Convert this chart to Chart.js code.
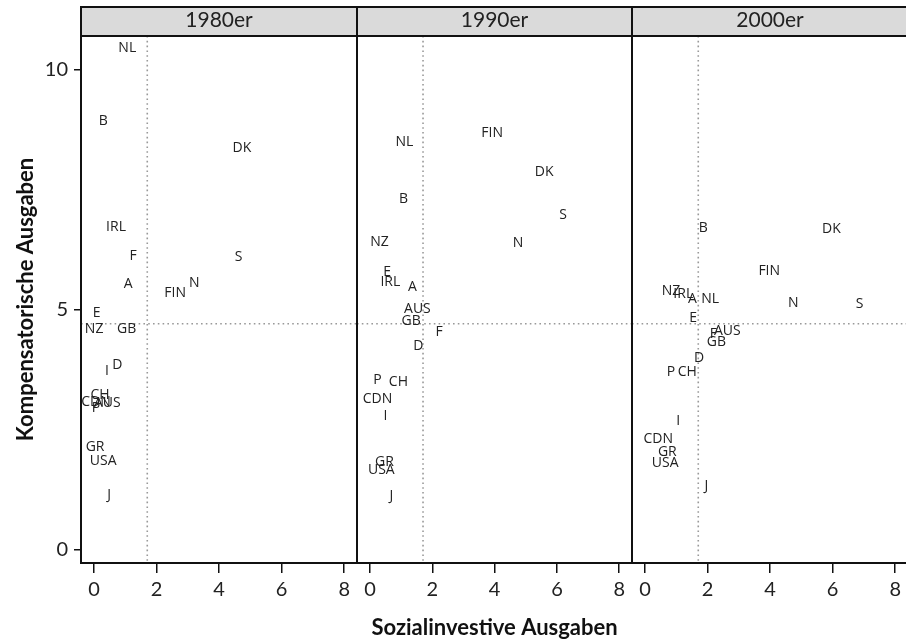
<!DOCTYPE html>
<html>
<head>
<meta charset="utf-8">
<script src="https://cdn.jsdelivr.net/npm/chart.js@4.4.0/dist/chart.umd.min.js"></script>
<style>
  html, body { margin: 0; padding: 0; background: #fff; overflow: hidden; }
  #wrap { position: relative; width: 906px; height: 639px; overflow: hidden; }
  canvas { position: absolute; top: 0; }
</style>
</head>
<body>
<div id="wrap">
  <canvas id="p80" width="359" height="639" style="left:0px"></canvas>
  <canvas id="p90" width="279" height="639" style="left:355px"></canvas>
  <canvas id="p00" width="280" height="639" style="left:630px"></canvas>
</div>
<script>
// values
const panelTitles = ['1980er', '1990er', '2000er'];

const labels80 = ['NL','B','DK','IRL','F','S','A','N','FIN','E','NZ','GB','D','I','CH','CDN','AUS','P','GR','USA','J'];
const x80 = [1.06, 0.29, 4.73, 0.70, 1.25, 4.62, 1.09, 3.20, 2.59, 0.08, 0.00, 1.04, 0.74, 0.41, 0.19, 0.06, 0.42, 0.06, 0.03, 0.29, 0.48];
const y80 = [10.45, 8.93, 8.36, 6.73, 6.11, 6.09, 5.54, 5.55, 5.35, 4.93, 4.60, 4.60, 3.86, 3.72, 3.23, 3.09, 3.07, 2.96, 2.15, 1.86, 1.15];

const labels90 = ['FIN','NL','DK','B','S','NZ','N','E','IRL','A','AUS','GB','F','D','P','CH','CDN','I','GR','USA','J'];
const x90 = [3.92, 1.10, 5.59, 1.07, 6.20, 0.30, 4.75, 0.55, 0.65, 1.36, 1.52, 1.32, 2.22, 1.55, 0.24, 0.91, 0.24, 0.49, 0.46, 0.36, 0.68];
const y90 = [8.68, 8.49, 7.87, 7.31, 6.97, 6.41, 6.39, 5.79, 5.58, 5.48, 5.02, 4.77, 4.54, 4.25, 3.54, 3.50, 3.15, 2.80, 1.84, 1.67, 1.13];

const labels00 = ['B','DK','FIN','NZ','IRL','A','NL','N','S','E','AUS','F','GB','D','P','CH','I','CDN','GR','USA','J'];
const x00 = [1.86, 5.96, 3.97, 0.83, 1.22, 1.51, 2.08, 4.74, 6.86, 1.54, 2.63, 2.18, 2.28, 1.73, 0.83, 1.35, 1.06, 0.42, 0.71, 0.64, 1.96];
const y00 = [6.70, 6.68, 5.81, 5.39, 5.33, 5.23, 5.23, 5.14, 5.12, 4.83, 4.56, 4.50, 4.33, 4.00, 3.71, 3.71, 2.69, 2.32, 2.05, 1.82, 1.34];

const xTicks = [0, 2, 4, 6, 8];
const yTicks = [0, 5, 10];
const xRange = [-0.42, 8.41];
const yRange = [-0.27, 10.70];
const refX = 1.70;
const refY = 4.71;

const xTitle = 'Sozialinvestive Ausgaben';
const yTitle = 'Kompensatorische Ausgaben';

const panelPlugin = {
  id: 'panel',
  beforeDatasetsDraw(chart) {
    const {ctx, chartArea: a, scales: {x, y}} = chart;
    const px = x.getPixelForValue(refX);
    const py = y.getPixelForValue(refY);
    ctx.save();
    ctx.strokeStyle = '#999';
    ctx.lineWidth = 1.6;
    ctx.setLineDash([1.6, 3.2]);
    ctx.beginPath();
    ctx.moveTo(px, a.top);
    ctx.lineTo(px, a.bottom);
    ctx.moveTo(a.left, py);
    ctx.lineTo(a.right, py);
    ctx.stroke();
    ctx.restore();
  },
  afterDatasetsDraw(chart) {
    const {ctx} = chart;
    const meta = chart.getDatasetMeta(0);
    ctx.save();
    ctx.font = '14px "Open Sans"';
    ctx.fillStyle = '#222';
    ctx.textAlign = 'center';
    ctx.textBaseline = 'middle';
    meta.data.forEach((pt, i) => {
      ctx.fillText(chart.data.labels[i], pt.x, pt.y);
    });
    ctx.restore();
  },
  afterDraw(chart, args, opts) {
    const {ctx, chartArea: a} = chart;
    const stripTop = 7;
    ctx.save();
    ctx.fillStyle = '#dadada';
    ctx.fillRect(a.left, stripTop, a.right - a.left, a.top - stripTop);
    ctx.strokeStyle = '#111';
    ctx.lineWidth = 2;
    ctx.strokeRect(a.left, stripTop, a.right - a.left, a.top - stripTop);
    ctx.strokeRect(a.left, a.top, a.right - a.left, a.bottom - a.top);
    ctx.fillStyle = '#222';
    ctx.font = '21px Lato';
    ctx.textAlign = 'center';
    ctx.textBaseline = 'middle';
    ctx.fillText(opts.title, (a.left + a.right) / 2, (stripTop + a.top) / 2 - 1);
    ctx.restore();
  }
};

function makePanel(id, idx, labels, xs, ys) {
  const first = idx === 0;
  const middle = idx === 1;
  const yScale = {
    type: 'linear',
    min: yRange[0],
    max: yRange[1],
    display: first,
    afterBuildTicks: s => { s.ticks = yTicks.map(v => ({value: v})); },
    grid: { drawOnChartArea: false, drawTicks: true, tickLength: 7, color: '#111', lineWidth: 1.5 },
    border: { display: false },
    ticks: { font: {family: 'Lato', size: 20}, color: '#222', padding: 6 },
    title: {
      display: true, text: yTitle, color: '#111',
      font: {family: 'Lato', size: 22, weight: 'bold', lineHeight: 1},
      padding: {top: 15, bottom: 0}
    }
  };
  if (first) yScale.afterFit = s => { s.width = 81; };

  return new Chart(document.getElementById(id), {
    type: 'scatter',
    data: {
      labels: labels,
      datasets: [{
        data: xs.map((v, i) => ({x: v, y: ys[i]})),
        pointRadius: 0,
        pointHoverRadius: 0
      }]
    },
    options: {
      responsive: false,
      animation: false,
      events: [],
      layout: { padding: {left: first ? 0 : 2, right: 2, top: 36, bottom: 0} },
      plugins: {
        legend: { display: false },
        tooltip: { enabled: false },
        panel: { title: panelTitles[idx] }
      },
      scales: {
        x: {
          type: 'linear',
          min: xRange[0],
          max: xRange[1],
          afterBuildTicks: s => { s.ticks = xTicks.map(v => ({value: v})); },
          afterFit: s => { s.height = 76; },
          grid: { drawOnChartArea: false, drawTicks: true, tickLength: 10, color: '#111', lineWidth: 1.5 },
          border: { display: false },
          ticks: { font: {family: 'Lato', size: 20, lineHeight: 1.2}, color: '#222', padding: 5, maxRotation: 0, autoSkip: false },
          title: {
            display: middle, text: xTitle, color: '#111',
            font: {family: 'Lato', size: 22, weight: 'bold', lineHeight: 1},
            padding: {top: 0, bottom: 0}
          }
        },
        y: yScale
      }
    },
    plugins: [panelPlugin]
  });
}

makePanel('p80', 0, labels80, x80, y80);
makePanel('p90', 1, labels90, x90, y90);
makePanel('p00', 2, labels00, x00, y00);
</script>
</body>
</html>
